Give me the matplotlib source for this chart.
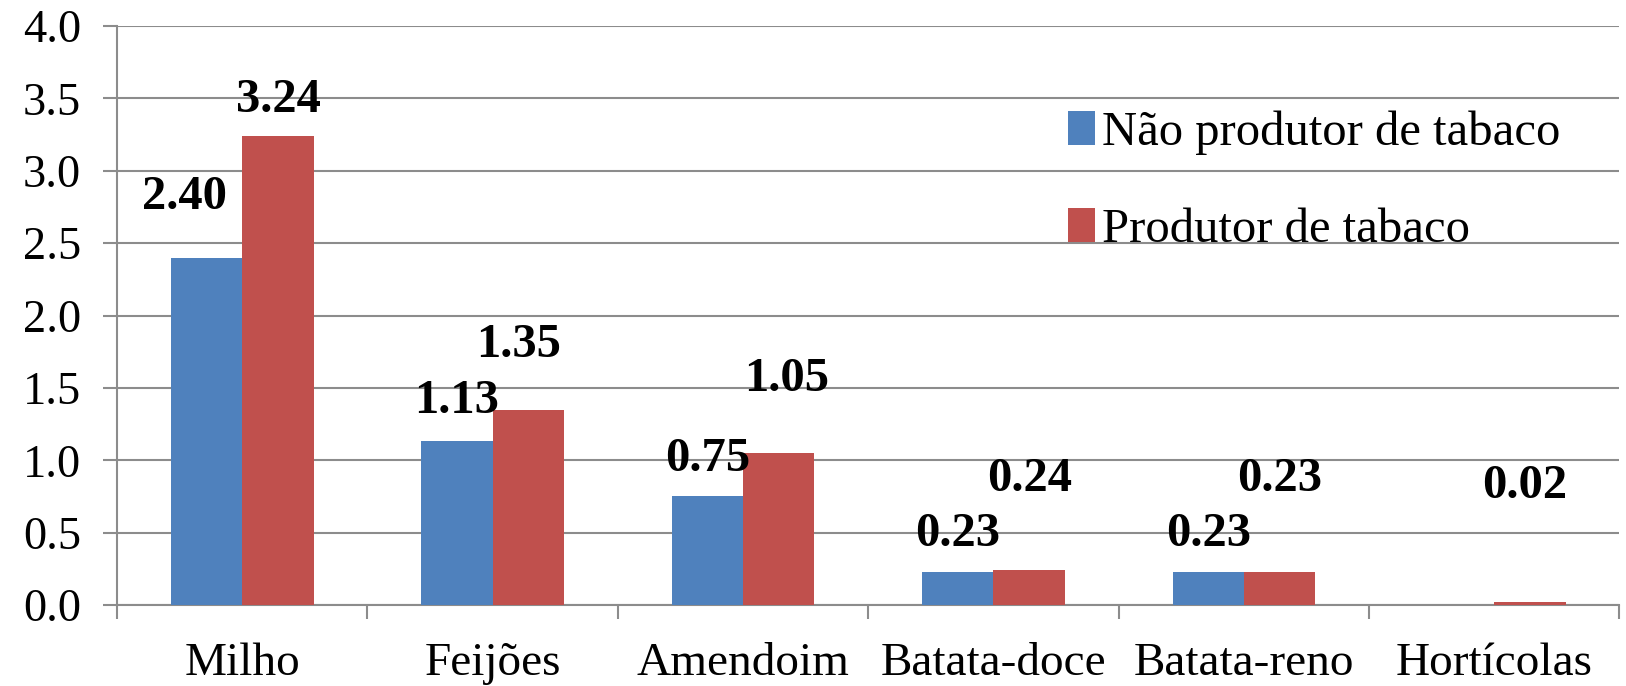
import numpy as np
import matplotlib.pyplot as plt

plt.rcParams['font.family'] = ['Liberation Serif', 'DejaVu Serif']

culturas = ["Milho", "Feijões", "Amendoim", "Batata-doce", "Batata-reno", "Hortícolas"]
nao_produtor = [2.40, 1.13, 0.75, 0.23, 0.23, 0.0]
produtor = [3.24, 1.35, 1.05, 0.24, 0.23, 0.02]
series_nomes = ["Não produtor de tabaco", "Produtor de tabaco"]

# posicao manual dos rotulos (dx, dy) como no grafico original
desl_nao = [(-0.09, 0.42), (0.0, 0.28), (0.0, 0.26), (0.0, 0.26), (0.0, 0.26), None]
desl_prod = [(0.0, 0.25), (-0.04, 0.45), (0.03, 0.51), (0.0, 0.63), (0.0, 0.64), (-0.02, 0.80)]

azul = "#4F81BD"
vermelho = "#C0504D"

fig = plt.figure(figsize=(16.26, 6.86), dpi=100)
ax = fig.add_axes([0.072, 0.118, 0.924, 0.844])

x = np.arange(len(culturas))
w = 0.285
b1 = ax.bar(x - w / 2, nao_produtor, w, color=azul, label=series_nomes[0], zorder=3)
b2 = ax.bar(x + w / 2, produtor, w, color=vermelho, label=series_nomes[1], zorder=3)

for i in range(len(culturas)):
    if desl_nao[i] is not None and nao_produtor[i] > 0:
        dx, dy = desl_nao[i]
        ax.text(x[i] - w / 2 + dx, nao_produtor[i] + dy, "%.2f" % nao_produtor[i],
                ha='center', va='center', fontsize=35, fontweight='bold', zorder=4)
    dx, dy = desl_prod[i]
    ax.text(x[i] + w / 2 + dx, produtor[i] + dy, "%.2f" % produtor[i],
            ha='center', va='center', fontsize=35, fontweight='bold', zorder=4)

ax.set_ylim(0, 4.0)
ax.set_xlim(-0.5, len(culturas) - 0.5)
ax.set_yticks(np.arange(0, 4.01, 0.5))
ax.set_yticklabels(["%.1f" % v for v in np.arange(0, 4.01, 0.5)], fontsize=33.5)
ax.yaxis.grid(True, color="#8c8c8c", linewidth=1.5, zorder=0)

ax.set_xticks(np.arange(-0.5, len(culturas), 1.0))
ax.set_xticklabels([])
ax.set_xticks(x, minor=True)
ax.set_xticklabels(culturas, minor=True, fontsize=34)
ax.tick_params(axis='x', which='minor', length=0, pad=27)
ax.tick_params(axis='x', which='major', length=10, width=1.5, color="#8c8c8c")
ax.tick_params(axis='y', length=10, width=1.5, color="#8c8c8c", pad=16)

for s in ['top', 'right']:
    ax.spines[s].set_visible(False)
for s in ['left', 'bottom']:
    ax.spines[s].set_color("#8c8c8c")
    ax.spines[s].set_linewidth(1.5)

ax.legend(loc='upper left', bbox_to_anchor=(0.604, 0.93), frameon=False, fontsize=35,
          handlelength=0.55, handleheight=0.7, handletextpad=0.15, labelspacing=1.1)

fig.savefig("out.png", dpi=100)
